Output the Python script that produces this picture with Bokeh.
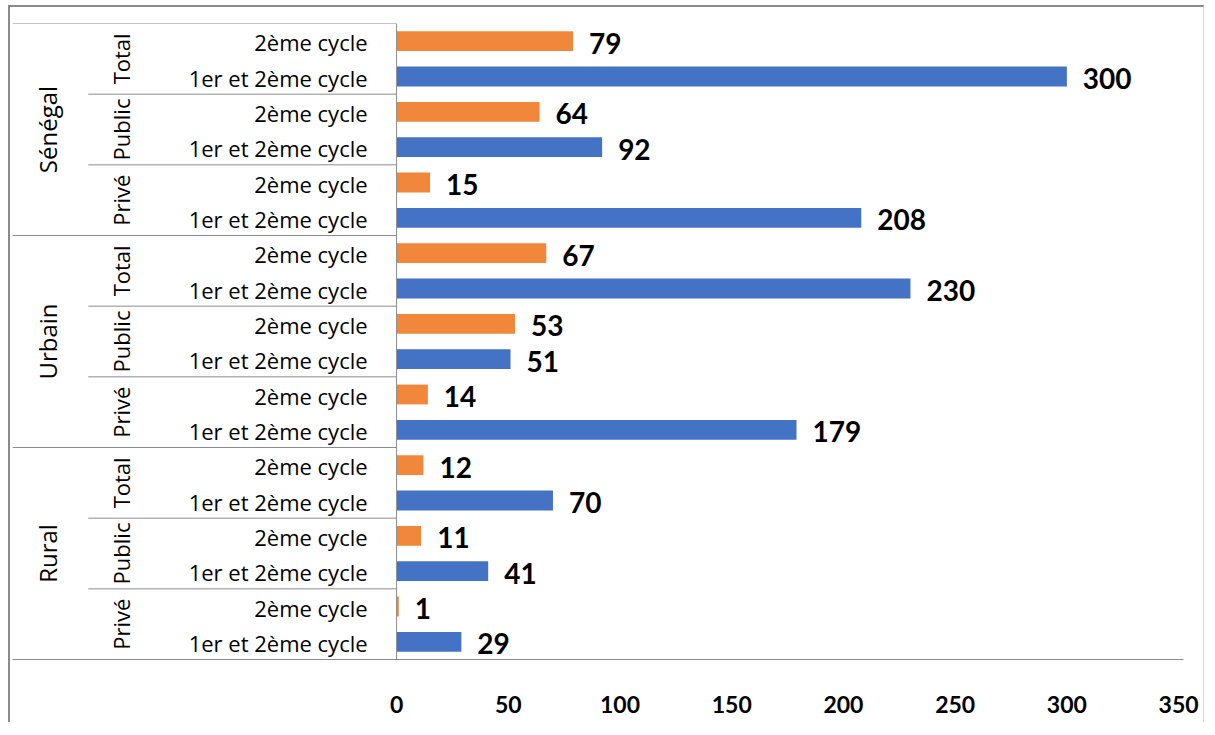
import math
from bokeh.plotting import figure
from bokeh.models import Range1d, FixedTicker, ColumnDataSource, Span
from bokeh.core.properties import value
from bokeh.embed import file_html
from bokeh.resources import INLINE

# ---- data ----
groups = ["Sénégal", "Urbain", "Rural"]
subgroups = ["Total", "Public", "Privé"]
levels = ["2ème cycle", "1er et 2ème cycle"]
senegal_vals = [[79, 300], [64, 92], [15, 208]]
urbain_vals = [[67, 230], [53, 51], [14, 179]]
rural_vals = [[12, 70], [11, 41], [1, 29]]
tick_values = [0, 50, 100, 150, 200, 250, 300, 350]

ORANGE = "#F0873A"
BLUE = "#4472C4"
GRAY = "#8c8c8c"
NUM_FONT = "Lato"
LAB_FONT = "Open Sans"

all_vals = [senegal_vals, urbain_vals, rural_vals]
rows, vals, cats, colors = [], [], [], []
r = 0
for gi, g in enumerate(groups):
    for si, s in enumerate(subgroups):
        for li, lv in enumerate(levels):
            rows.append(r)
            vals.append(all_vals[gi][si][li])
            cats.append(lv)
            colors.append(ORANGE if li == 0 else BLUE)
            r += 1
n = len(rows)
src = ColumnDataSource(dict(row=rows, val=vals, cat=cats, color=colors,
                            lab=[str(v) for v in vals], zero=[0] * n))

p = figure(width=1196, height=717, output_backend="svg", toolbar_location=None,
           x_range=Range1d(-171.9, 352.2), y_range=Range1d(n - 0.5, -0.5),
           min_border_left=2, min_border_right=23, min_border_top=16, min_border_bottom=65)
p.styles = {"border-left": "2px solid #8a8a8a", "border-top": "2px solid #8a8a8a",
            "border-right": "1px solid #d6d6d6", "margin-left": "8px", "margin-top": "5px"}
p.outline_line_color = None
p.background_fill_color = "white"
p.border_fill_color = "white"
p.xgrid.visible = False
p.ygrid.visible = False
p.yaxis.visible = False

p.hbar(y="row", left="zero", right="val", height=0.56, fill_color="color",
       line_color=None, source=src)

# value labels
p.text(x="val", y="row", text="lab", source=src, x_offset=16, y_offset=2,
       text_align="left", text_baseline="middle", text_font=value(NUM_FONT),
       text_font_style="bold", text_font_size="28px", text_color="#000000")

# category labels
p.text(x="zero", y="row", text="cat", source=src, x_offset=-29, y_offset=1,
       text_align="right", text_baseline="middle", text_font=value(LAB_FONT),
       text_font_size="22px", text_color="#000000")

# subgroup labels (rotated)
sub_y, sub_t = [], []
for gi in range(len(groups)):
    for si, s in enumerate(subgroups):
        sub_y.append(gi * 6 + si * 2 + 0.5)
        sub_t.append(s)
p.text(x=[0] * len(sub_y), y=sub_y, text=sub_t, angle=math.pi / 2, x_offset=-276,
       text_align="center", text_baseline="middle", text_font=value(LAB_FONT),
       text_font_size="22px", text_color="#000000")

# group labels (rotated)
grp_y = [gi * 6 + 2.5 for gi in range(len(groups))]
p.text(x=[0] * len(groups), y=grp_y, text=groups, angle=math.pi / 2, x_offset=-349,
       text_align="center", text_baseline="middle", text_font=value(LAB_FONT),
       text_font_size="24px", text_color="#000000")

# separator lines in the category area
x_left = -171.9
x_sub = -138.0
grp_b = [-0.5] + [gi * 6 - 0.5 for gi in range(1, len(groups))]
p.segment(x0=[x_left] * len(grp_b), x1=[0] * len(grp_b), y0=grp_b, y1=grp_b,
          line_color=GRAY, line_width=1)
sub_b = [gi * 6 + si * 2 - 0.5 for gi in range(len(groups)) for si in range(1, len(subgroups))]
p.segment(x0=[x_sub] * len(sub_b), x1=[0] * len(sub_b), y0=sub_b, y1=sub_b,
          line_color=GRAY, line_width=1)
p.add_layout(Span(location=0, dimension="height", line_color=GRAY, line_width=1))

# x axis
p.xaxis.ticker = FixedTicker(ticks=tick_values)
p.xaxis.major_tick_line_color = None
p.xaxis.minor_tick_line_color = None
p.xaxis.axis_line_color = GRAY
p.xaxis.major_label_standoff = 30
p.xaxis.major_label_text_font = NUM_FONT
p.xaxis.major_label_text_font_style = "bold"
p.xaxis.major_label_text_font_size = "23px"
p.xaxis.major_label_text_color = "#000000"

open("out.html", "w").write(file_html(p, INLINE))
